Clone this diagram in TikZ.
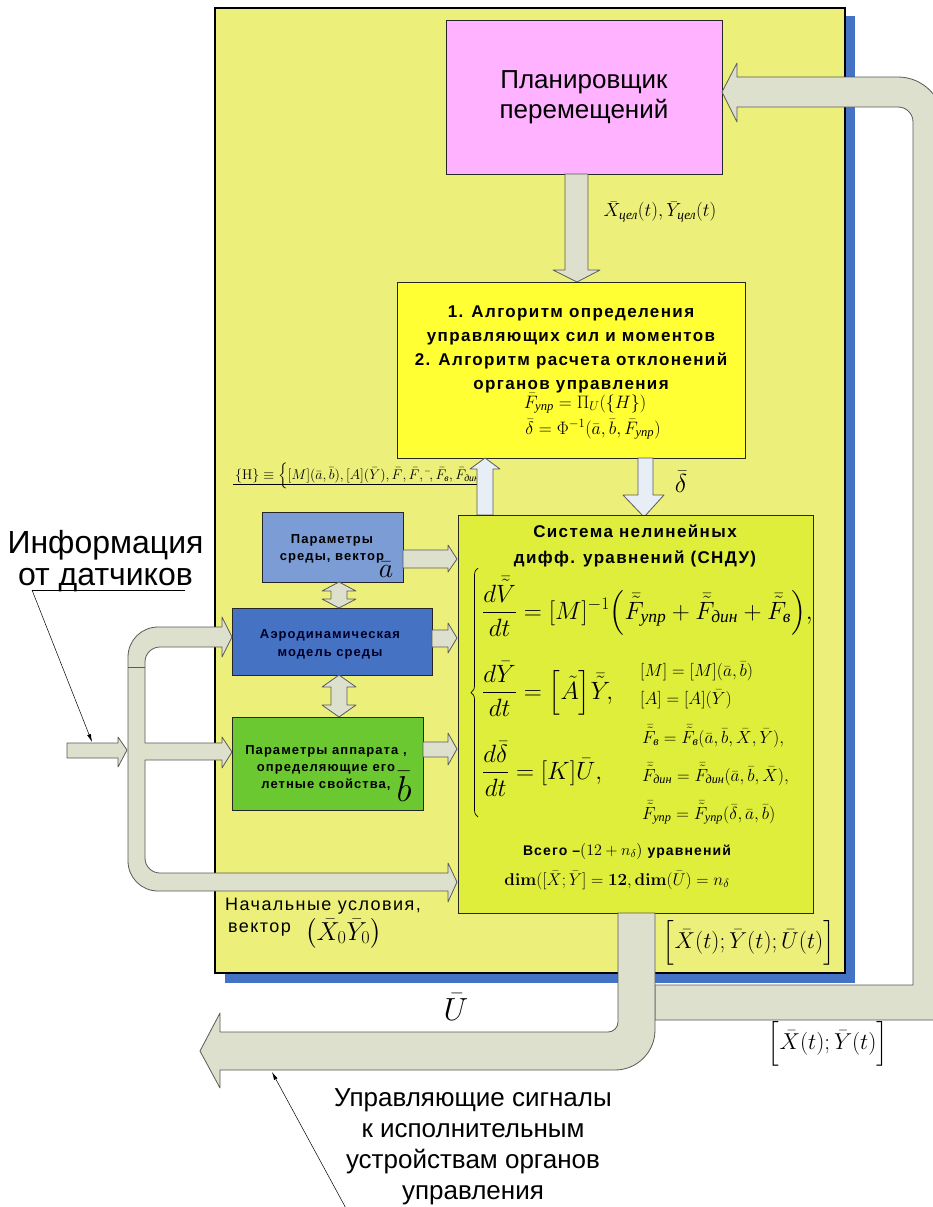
\RequirePackage{fix-cm}
\documentclass[tikz,border=0pt]{standalone}
\usepackage{amsmath}
\usepackage[no-math]{fontspec}
\setmainfont{Liberation Sans}
\newfontfamily\lsp[LetterSpace=8]{Liberation Sans}
\newfontfamily\cyrs{Liberation Serif}
\usetikzlibrary{decorations.pathreplacing,arrows.meta}
\newcommand{\ci}[1]{\text{\cyrs\itshape #1}}
\newcommand{\tb}[1]{\bar{\tilde{#1}}}
\newcommand{\fsz}[1]{\fontsize{#1}{#1}\selectfont}
\definecolor{panelY}{RGB}{236,240,122}
\definecolor{shadowB}{RGB}{68,114,196}
\definecolor{pinkP}{RGB}{255,178,255}
\definecolor{algY}{RGB}{255,255,51}
\definecolor{snduC}{RGB}{222,238,58}
\definecolor{arrG}{RGB}{221,224,204}
\definecolor{arrP}{RGB}{232,238,246}
\definecolor{boxA}{RGB}{124,156,214}
\definecolor{boxB}{RGB}{70,114,196}
\definecolor{boxC}{RGB}{108,200,48}
\definecolor{edgeG}{RGB}{90,90,90}
\begin{document}
\begin{tikzpicture}[x=1pt,y=-1pt,
  fat/.style={fill=arrG,draw=edgeG,line width=0.8pt,line join=round},
  pale/.style={fill=arrP,draw=edgeG,line width=0.8pt,line join=round},
  blk/.style={draw=black!85,line width=0.8pt,inner sep=0pt},
  lbl/.style={inner sep=0pt},
  thinarr/.style={draw=black,line width=0.5pt,-{Latex[length=8pt,width=4pt]}}]
\useasboundingbox (0,0) rectangle (933,1207);
\fill[white] (0,0) rectangle (933,1207);
% panel with shadow
\fill[shadowB] (225,16) rectangle (855,983);
\draw[fill=panelY,line width=1.6pt] (215,8) rectangle (845,973);

% planner
\node[blk,fill=pinkP,minimum width=276,minimum height=154,align=center,
  font={\fontsize{26}{30}\selectfont}] (plan) at (584,97) {Планировщик\\перемещений};
\draw[fat] (565,174) -- (588,174) -- (588,270) -- (600,270) -- (577,282) -- (553,270) -- (565,270) -- cycle;
\node[lbl,font=\fsz{19}] (xcel) at (660,212) {$\bar X_{\ci{цел}}(t),\bar Y_{\ci{цел}}(t)$};

% algorithm box
\node[blk,fill=algY,minimum width=348,minimum height=176] (alg) at (571,370) {};
\node[lbl,anchor=north,align=center,font={\lsp\bfseries\fontsize{17}{24}\selectfont}] (algtxt) at (571,306)
  {1. Алгоритм определения\\управляющих сил и моментов\\2. Алгоритм расчета отклонений\\органов управления};
\node[lbl,anchor=base,font=\fsz{18}] (alf1) at (585,408) {$\bar F_{\ci{упр}} = \Pi_U(\{H\})$};
\node[lbl,anchor=base,font=\fsz{18}] (alf2) at (593,434) {$\bar\delta = \Phi^{-1}(\bar a,\bar b,\bar F_{\ci{упр}})$};

% {H} formula
\node[lbl,anchor=base west,font=\fsz{14}] (H) at (235,479)
  {$\{\mathrm{H}\}\equiv\Bigl\{[M](\bar a,\bar b),[A](\bar Y),\bar F,\bar F,\bar{\;},\bar F_{\ci{в}},\bar F_{\ci{дин}}\Bigr\}$};
\draw[line width=0.6pt] (233,484) -- (478,484);

% arrows between algorithm box and SNDU
\draw[pale] (477,515) -- (477,469) -- (470,469) -- (485,458) -- (500,469) -- (493,469) -- (493,515) -- cycle;
\draw[pale] (638,458) -- (653,458) -- (653,495) -- (664,495) -- (644,517) -- (623,495) -- (638,495) -- cycle;
\node[lbl,font=\fsz{26}] (dlab) at (681,482) {$\bar\delta$};

% SNDU box
\node[blk,fill=snduC,minimum width=355,minimum height=398] (sndu) at (635.5,714) {};
\node[lbl,anchor=north,align=center,font={\lsp\bfseries\fontsize{17}{26}\selectfont}] (sndut) at (635,525)
  {Система нелинейных\\дифф. уравнений (СНДУ)};
\draw[decorate,decoration={brace,amplitude=7pt},line width=0.7pt] (478,817) -- (478,568);
\node[lbl,anchor=base west,font=\fsz{25}] (e1) at (482,619)
  {$\dfrac{d\tb V}{dt} = [M]^{-1}\Bigl(\tb F_{\ci{упр}}+\tb F_{\ci{дин}}+\tb F_{\ci{в}}\Bigr),$};
\node[lbl,anchor=base west,font=\fsz{25}] (e2) at (482,699)
  {$\dfrac{d\bar Y}{dt} = \Bigl[\tilde A\Bigr]\tb Y,$};
\node[lbl,anchor=base west,font=\fsz{25}] (e3) at (482,779)
  {$\dfrac{d\bar\delta}{dt} = [K]\bar U,$};
\node[lbl,anchor=base west,font=\fsz{17.5}] (r1) at (640,676) {$[M]=[M](\bar a,\bar b)$};
\node[lbl,anchor=base west,font=\fsz{17.5}] (r2) at (640,704) {$[A]=[A](\bar Y)$};
\node[lbl,anchor=base west,font=\fsz{17.5}] (r3) at (642,743) {$\tb F_{\ci{в}}=\tb F_{\ci{в}}(\bar a,\bar b,\bar X,\bar Y),$};
\node[lbl,anchor=base west,font=\fsz{17.5}] (r4) at (642,781) {$\tb F_{\ci{дин}}=\tb F_{\ci{дин}}(\bar a,\bar b,\bar X),$};
\node[lbl,anchor=base west,font=\fsz{17.5}] (r5) at (642,819) {$\tb F_{\ci{упр}}=\tb F_{\ci{упр}}(\bar\delta,\bar a,\bar b)$};
\node[lbl,anchor=base,font=\fsz{14}] (vsego) at (627,855)
  {{\lsp\bfseries Всего –}{\fsz{16}$(12+n_\delta)$}{\lsp\bfseries\ уравнений}};
\node[lbl,anchor=base,font=\fsz{17}] (dimline) at (617,885)
  {$\mathbf{dim}([\bar X;\bar Y]=\mathbf{12},\mathbf{dim}(\bar U)=n_\delta$};

% left boxes
\node[blk,fill=boxA,minimum width=141,minimum height=70] (bA) at (332.5,547) {};
\node[lbl,anchor=north,align=center,font={\lsp\bfseries\fontsize{13}{17}\selectfont}] (bAt) at (332,534) {Параметры\\среды, вектор};
\node[lbl,anchor=base,font=\fsz{28}] (avec) at (386,577) {$\bar a$};
\node[blk,fill=boxB,minimum width=200,minimum height=67] (bB) at (332,641.5) {};
\node[lbl,anchor=north,align=center,text=black!85!blue,font={\lsp\bfseries\fontsize{13}{18}\selectfont}] (bBt) at (330,629) {Аэродинамическая\\модель среды};
\node[blk,fill=boxC,minimum width=191,minimum height=93] (bC) at (327.5,763.5) {};
\node[lbl,anchor=north,align=center,font={\lsp\bfseries\fontsize{13}{17}\selectfont}] (bCt) at (326,745) {Параметры аппарата ,\\определяющие его\\летные свойства,\hspace{22pt}};
\node[lbl,anchor=base,font=\fsz{36}] (bvec) at (404,801) {$\bar b$};

% arrows from left boxes to SNDU
\draw[fat] (403,550) -- (448,550) -- (448,545) -- (457,559) -- (448,572) -- (448,568) -- (403,568) -- cycle;
\draw[fat] (432,630) -- (448,630) -- (448,623) -- (457,638) -- (448,653) -- (448,647) -- (432,647) -- cycle;
\draw[fat] (423,742) -- (448,742) -- (448,733) -- (457,749) -- (448,765) -- (448,757) -- (423,757) -- cycle;
% double arrows
\draw[fat] (339,582) -- (356,591) -- (347,591) -- (347,599) -- (356,599) -- (339,608) -- (322,599) -- (331,599) -- (331,591) -- (322,591) -- cycle;
\draw[fat] (339,675) -- (356,687) -- (347,687) -- (347,705) -- (356,705) -- (339,717) -- (322,705) -- (331,705) -- (331,687) -- (322,687) -- cycle;

% sensor bus
\draw[fat] (128,657) .. controls (128,640.4) and (141.4,627) .. (158,627) -- (222,627) -- (222,617) -- (232,637) -- (222,657) -- (222,647)
  -- (160,647) .. controls (151.7,647) and (145,653.7) .. (145,662) -- (145,743) -- (222,743) -- (222,737) -- (232,752) -- (222,768) -- (222,760)
  -- (145,760) -- (145,858) .. controls (145,866.3) and (151.7,873) .. (160,873) -- (448,873) -- (448,863) -- (457,882) -- (448,902) -- (448,891)
  -- (158,891) .. controls (141.4,891) and (128,877.6) .. (128,861) -- cycle;
\draw[line width=1pt,edgeG] (128,667) -- (145,667);
\draw[fat] (67,743) -- (118,743) -- (118,737) -- (127,750) -- (118,767) -- (118,758) -- (67,758) -- cycle;

% feedback arrow to planner
\draw[fat] (655,985) -- (913,985) -- (913,122) .. controls (913,113.7) and (906.3,107) .. (898,107) -- (737,107) -- (737,122) -- (722,92)
  -- (737,63) -- (737,77) -- (898,77) .. controls (922.8,77) and (943,97.2) .. (943,122) -- (943,1020) -- (655,1020) -- cycle;
% control output arrow
\draw[fat] (618,913) -- (655,913) -- (655,1030) .. controls (655,1052.1) and (637.1,1070) .. (615,1070) -- (220,1070) -- (220,1088)
  -- (200,1051) -- (220,1013) -- (220,1032) -- (608,1032) .. controls (613.5,1032) and (618,1027.5) .. (618,1022) -- cycle;

% labels
\node[lbl,font=\fsz{23}] (xyu) at (749,943) {$\Bigl[\bar X(t);\bar Y(t);\bar U(t)\Bigr]$};
\node[lbl,font=\fsz{23}] (xy) at (828,1044) {$\Bigl[\bar X(t);\bar Y(t)\Bigr]$};
\node[lbl,anchor=base,font=\fsz{32}] (ulab) at (456,1020) {$\bar U$};
\node[lbl,anchor=base west,font={\lsp\fsz{18}}] (nu1) at (225,910) {Начальные условия,};
\node[lbl,anchor=base west,font={\lsp\fsz{18}}] (nu2) at (228,932) {вектор};
\node[lbl,anchor=base west,font=\fsz{26}] (x0y0) at (305,940) {$\bigl(\bar X_0\bar Y_0\bigr)$};

% sensor information callout
\node[lbl,anchor=north,align=center,font={\fontsize{32}{32}\selectfont}] (info) at (105.5,530) {Информация\\от датчиков};
\coordinate (u1) at (185,590);
\coordinate (u2) at (32,590);
\coordinate (u3) at (92,742);
\draw[line width=0.5pt] (u1) -- (u2);
\draw[thinarr] (u2) -- (u3);

% control signals callout
\node[lbl,anchor=north,align=center,font={\fontsize{26}{31}\selectfont}] (ctrl) at (473,1088)
  {Управляющие сигналы\\к исполнительным\\устройствам органов\\управления};
\coordinate (c1) at (348,1212);
\coordinate (c2) at (272,1072);
\draw[thinarr] (c1) -- (c2);
\end{tikzpicture}
\end{document}
